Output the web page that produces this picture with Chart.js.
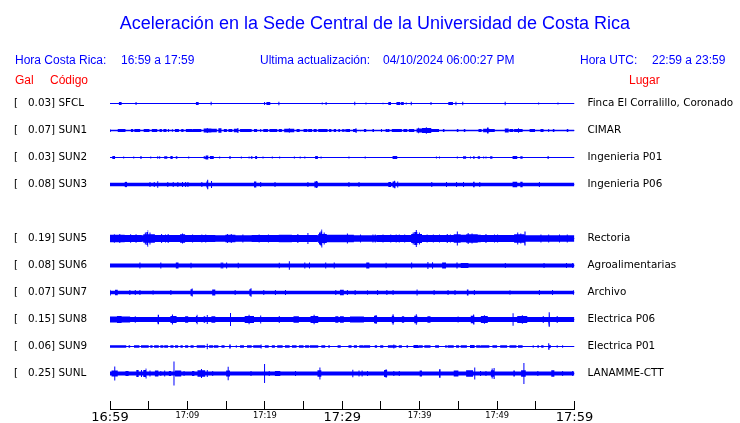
<!DOCTYPE html>
<html><head><meta charset="utf-8">
<script src="https://cdn.jsdelivr.net/npm/chart.js@4.4.1/dist/chart.umd.min.js"></script>
<style>
html,body{margin:0;padding:0;background:#fff;}
#wrap{position:relative;width:740px;height:423px;overflow:hidden;background:#fff;}
canvas{position:absolute;left:0;top:0;}
.t{position:absolute;white-space:pre;font-family:"Liberation Sans",Arial,sans-serif;line-height:1;}
.b{color:#0000ff;font-size:12px;}
.r{color:#ff0000;font-size:12px;}
</style></head><body>
<div id="wrap">
<canvas id="c" width="740" height="423"></canvas>
<div class="t" style="left:0;width:750px;text-align:center;top:14px;font-size:18px;color:#0000ff">Aceleración en la Sede Central de la Universidad de Costa Rica</div>
<div class="t b" style="left:15px;top:54px">Hora Costa Rica:</div>
<div class="t b" style="left:121px;top:54px">16:59 a 17:59</div>
<div class="t b" style="left:260px;top:54px">Ultima actualización:</div>
<div class="t b" style="left:383px;top:54px">04/10/2024 06:00:27 PM</div>
<div class="t b" style="left:580px;top:54px">Hora UTC:</div>
<div class="t b" style="left:652px;top:54px">22:59 a 23:59</div>
<div class="t r" style="left:15px;top:74px">Gal</div>
<div class="t r" style="left:50px;top:74px">Código</div>
<div class="t r" style="left:629px;top:74px">Lugar</div>
</div>
<script>
// ---------- data ----------
const TIME_TICKS = [0,5,10,15,20,25,30,35,40,45,50,55,60];          // minutes after 16:59
const TIME_LABELS = ['16:59','','17:09','','17:19','','17:29','','17:39','','17:49','','17:59'];
const CODES = ['SFCL','SUN1','SUN2','SUN3','SUN4','SUN5','SUN6','SUN7','SUN8','SUN9','SUNL'];
const PEAK_GAL = [0.03,0.07,0.03,0.08,null,0.19,0.08,0.07,0.15,0.06,0.25];
const PLACES = ['Finca El Corralillo, Coronado','CIMAR','Ingenieria P01','Ingenieria P06','',
  'Rectoria','Agroalimentarias','Archivo','Electrica P06','Electrica P01','LANAMME-CTT'];
// background noise half-amplitude per station (trace units)
const NOISE = [0,0.75,0,1.85,null,3.3,2.0,1.7,2.4,0,2.0];
// bursts: [minute, halfAmp] single spike, or [startMin, endMin, halfAmp]
const SFCL_EV = [[1.15,1.5,1.5],[3.3,1.6],[11.1,11.45,1.5],[13.0,1.8],[19.9,1.5],[20.2,20.7,1.5],[21.75,1.8],[27.35,1],[27.85,1.5],[31.55,1.8],[33.0,1],[35.2,0.8],[35.95,36.3,1.5],[37.0,37.5,1.5],[37.6,37.95,1.5],[38.2,1],[38.85,1.8],[41.4,1.5],[43.7,44.3,1.5],[44.62,1.8],[45.5,1.8],[50.98,1.8],[55.3,1],[57.8,1]];
const SUN1_EV = [[0,0.1,1.5],[1.0,2.0,1.5],[2.7,3.0,1.5],[3.15,3.9,1.5],[4.35,5.1,1.5],[5.4,6.1,1.5],[6.4,6.7,1.5],[6.9,7.3,1.5],[7.5,1.5],[8.0,8.1,1.5],[8.4,8.9,1.5],[9.2,9.5,1.5],[9.8,10.6,1.5],[10.7,11.8,1.5],[12.1,13.1,2],[12.5,2.5],[13.1,13.8,1.8],[14.0,14.4,2.2],[14.7,15.1,1.5],[15.3,15.8,1.5],[16.0,16.6,1.8],[16.45,2.5],[16.8,18.3,1.5],[18.6,19.0,1.5],[19.4,1.5],[19.8,20.4,1.5],[20.6,21.6,1.5],[21.8,22.2,1.5],[22.5,23.8,1.8],[23.1,2.2],[24.1,24.5,1.5],[25.0,25.5,1.5],[25.6,26.1,1.5],[26.3,26.7,1.5],[26.9,28.1,1.5],[28.3,28.6,1.5],[28.9,29.2,1.5],[29.5,29.7,1.5],[30.0,30.2,1.5],
  [30.3,1.5],[30.5,31.0,1.5],[31.4,31.9,1.5],[31.7,2.2],[32.3,32.4,1.5],[32.8,33.1,1.5],[33.9,34.1,1.5],[35.0,1.5],[35.6,35.8,1.5],[35.9,36.1,1.5],[36.4,37.7,1.5],[37.9,38.4,1.5],[38.6,39.3,1.5],[39.6,40.3,2],[39.8,2.8],[40.3,41.5,2.5],[40.8,3.2],[41.5,42.5,1.5],[43.0,43.2,1.5],[44.8,45.0,1.5],[45.7,45.9,1.5],[47.6,48.0,1.5],[48.2,49.0,1.8],[48.7,48.9,3],[49.0,49.7,1.5],[51.0,51.5,2],[51.6,52.1,1.5],[52.2,53.3,1.5],[52.7,2.2],[54.2,54.9,1.5],[55.6,56.0,1.5],[56.6,1.5],[57.2,57.4,1.5],[59.0,59.2,1.5]];
const SUN2_EV = [[0.3,0.65,1.5],[1.7,1],[3.0,1],[3.9,4.1,1.3],[5.2,1],[6.1,1.3],[6.35,1.3],[7.0,7.4,1.3],[7.8,8.1,1.5],[8.5,8.7,1.3],[10.1,1],[12.1,12.3,1.3],[12.4,12.7,2],[12.9,13.4,1.5],[14.1,1],[15.4,15.6,1.3],[16.9,1],[17.9,1],[18.2,18.4,1.3],[18.75,19.0,1.5],[19.7,1],[20.9,1],[21.85,1],[23.75,1],[24.5,1],[25.1,1],[26.5,26.85,1.5],[27.2,1],[30.8,1],[32.9,1],[36.5,37.1,1.5],[42.1,1],[42.5,1],[44.8,1],[45.6,46.0,1.3],[46.5,1],[46.9,47.1,1.3],[47.5,47.8,1.3],[48.2,1],[48.5,1],[49.1,49.4,1.3],[52.0,52.6,1.5],[53.0,53.3,1.3],[56.5,56.7,1.3]];
const SUN3_EV = [[1.9,2.2,2.5],[2.0,2.8],[5.1,2.5],[5.65,2.5],[6.1,3.3],[7.4,2.5],[8.1,2.5],[8.7,2.5],[9.3,2.5],[9.7,2.5],[10.0,2.5],[11.8,2.5],[12.45,12.7,3],[12.55,4.7],[13.05,3.5],[18.6,18.9,3],[19.4,2.5],[21.25,2.5],[25.5,2.5],[26.4,26.85,3],[26.6,3.5],[30.8,2.5],[32.1,2.5],[35.95,36.3,2.5],[36.5,36.9,3],[36.7,3.8],[37.1,3],[41.5,2.5],[43.4,2.5],[44.7,2.5],[45.6,2.5],[46.9,47.1,2.8],[47.7,2.5],[52.0,52.6,2.8],[53.0,53.3,2.8],[55.4,2.5]];
const SUN5_EV = [[0,1.9,3.8],[0.5,4.3],[1.2,4.5],[1.9,4.1,3.5],[2.6,4.2],[3.3,4.2],[4.3,5.8,4.3],[4.5,6],[4.7,4.9,6.5],[4.8,8.5],[5.1,6],[5.8,9.05,3.5],[6.6,4.5],[7.1,4],[7.45,4.5],[9.05,9.7,4.2],[9.3,5],[9.7,13.6,3.5],[10.6,4],[11.8,4],[12.3,4],[13.6,14.9,3.3],[14.9,16.2,3.7],[15.1,4.5],[15.6,4.5],[16.2,18.3,3.3],[17.1,4],[18.3,21.8,3.5],[19.2,4],[20.4,4],[21.8,23.5,3.7],[23.5,26.8,3.5],[24.2,4.5],[25.5,5.5],[26.9,28.0,4.5],[27.0,6],[27.2,27.4,7],[27.3,9],[27.6,6],[28.0,30.4,3.7],
  [30.4,31.5,3.7],[30.6,5],[31.5,34.5,3.3],[32.3,4],[33.9,4],[34.2,4],[34.5,38.9,3.5],[35.2,4],[36.2,4],[36.9,4],[37.3,4],[38.0,4],[38.9,40.3,4.5],[39.1,6],[39.3,39.7,6.5],[39.5,8.5],[39.9,6],[40.3,44.4,3.5],[40.9,4],[41.7,4],[42.5,4],[43.5,4.5],[43.9,4],[44.4,45.3,4.3],[44.8,7],[45.3,47.9,3.7],[46.0,47.5,4.3],[46.2,5.5],[46.7,5],[47.9,52.2,3.5],[48.5,4.5],[49.6,4],[50.0,4],[52.2,53.5,4.3],[52.6,6],[53.0,5],[53.55,7],[53.5,60,3.3],[55.6,4],[56.6,4],[58.0,4],[59.0,4]];
const SUN6_EV = [[3.8,3],[6.5,3],[8.5,8.85,3],[10.4,2.7],[14.3,3],[14.5,3],[15.0,3],[16.5,2.7],[21.8,2.7],[23.1,4.3],[25.1,3],[25.7,3],[27.8,3],[28.9,3],[33.1,33.5,3],[35.6,2.7],[38.9,3],[41.0,3.5],[41.6,3.2],[42.9,43.4,3],[44.75,44.9,3],[45.3,46.3,2.6],[51.0,2.5],[56.0,2.5],[58.9,2.5],[59.7,2.5]];
const SUN7_EV = [[0,0.1,3],[0.65,1.0,2.8],[2.5,2.5],[3.2,2.5],[3.8,2.5],[5.5,2.3],[7.8,2.5],[10.4,10.7,3.3],[10.55,4],[13.2,13.6,3],[16.1,2.5],[18.0,18.3,3.3],[18.15,4.2],[19.8,2.5],[21.3,2.5],[22.6,2.5],[29.1,2.5],[29.7,30.2,2.8],[30.6,2.5],[31.6,2.5],[33.2,2.3],[34.5,2.5],[35.7,2.5],[36.5,2.5],[39.6,3],[41.8,2.5],[43.6,2.5],[44.5,2.5],[46.1,46.3,3],[47.0,2.5],[51.6,2.3],[55.4,2.5],[57.1,2.5],[59.8,2.3]];
const SUN8_EV = [[0,2.6,3],[0.9,1.5,3.5],[3.2,3.2],[6.1,6.3,3.6],[6.2,4.7],[7.8,8.6,3.6],[8.0,5],[9.7,10.1,3.3],[11.1,11.3,3.6],[11.2,4.8],[12.1,12.3,3.3],[12.5,4.5],[13.1,13.6,3.3],[15.5,6.5],[17.4,18.6,3.5],[17.9,4.8],[19.4,4],[21.8,3.5],[23.7,24.4,3.3],[25.9,26.9,3.5],[26.3,4.8],[29.1,29.5,3.3],[29.7,30.2,3.3],[31.0,32.8,3.1],[34.1,34.5,3.8],[34.3,4.5],[36.4,36.7,3.8],[36.5,5.2],[37.7,38.0,3.3],[39.3,39.7,3.8],[39.5,5.3],[41.0,41.4,3.3],[44.9,3],[46.6,47.1,3.8],[46.9,5],[47.9,48.8,3.5],[48.3,4.3],[52.0,6.3],[52.6,53.9,3.4],[53.2,4.3],[55.9,3.5],[56.6,56.8,3.8],[56.7,7.2],[57.7,3.5]];
const SUN9_EV = [[0,2.1,1.2],[2.4,2.6,1.2],[3.1,3.8,1.2],[4.0,5.0,1.2],[5.2,5.5,1.2],[5.7,6.3,1.2],[6.5,6.9,1.2],[7.0,7.5,1.2],[7.8,8.2,1.2],[8.4,8.8,1.2],[9.1,9.4,1.2],[9.7,10.1,1.2],[10.4,10.8,1.2],[11.2,12.3,1.3],[12.5,2.7],[12.8,13.3,1.2],[13.4,14.0,1.2],[14.4,14.8,1.2],[15.4,15.6,2],[16.25,1.2],[16.8,17.3,1.2],[17.7,18.3,1.2],[18.5,19.6,1.3],[19.45,2],[20.0,20.5,1.2],[20.9,21.3,1.2],[21.6,22.3,1.2],[22.6,23.2,1.2],[23.5,24.1,1.2],[24.4,25.0,1.2],[25.2,25.7,1.2],[25.8,26.9,1.2],[27.3,27.8,1.3],[28.2,28.4,1.2],[29.4,29.8,1.2],
  [30.8,31.2,1.2],[31.5,31.9,1.2],[32.2,32.7,1.2],[32.8,33.6,1.2],[34.2,34.5,1.2],[34.9,35.3,1.2],[35.9,37.0,1.2],[36.6,2],[37.3,37.7,1.2],[38.3,38.5,1.2],[39.2,39.8,1.5],[39.9,40.4,1.2],[40.6,41.4,1.2],[42.0,42.5,1.2],[43.3,43.5,1.2],[43.6,44.4,1.2],[44.7,45.1,1.2],[45.3,46.1,1.2],[46.5,47.1,1.5],[47.3,47.8,1.2],[47.9,49.0,1.2],[49.4,50.0,1.2],[50.4,51.3,1.2],[51.6,52.5,1.2],[52.7,53.3,1.2],[54.6,1.2],[55.2,55.4,1.2],[55.7,56.0,1.2],[56.6,3.3],[56.8,1.5],[57.7,1.2],[58.4,1.2]];
const SUNL_EV = [[0.2,1.0,3],[0.55,7],[2.0,2.4,2.5],[3.4,3.7,3.5],[4.0,3.5],[4.3,4.7,3.5],[4.6,5],[5.1,3],[5.8,6.25,3],[6.5,2.5],[7.0,3],[7.6,7.9,2.5],[8.2,12],[8.4,9.2,3],[9.5,2.5],[10.6,10.9,2.5],[11.3,12.3,3.3],[11.75,4.5],[12.5,3.5],[13.2,2.5],[15.0,15.5,3],[15.2,6.7],[18.15,2.5],[19.9,9.5],[20.5,2.5],[21.3,22.0,2.5],[23.9,2.5],[26.8,27.3,3.3],[27.05,6],[31.3,3.7],[32.1,3],[32.5,3],[33.2,2.5],[35.4,35.8,3.5],[35.6,4.2],[36.6,2.5],[37.3,2.5],[40.0,40.3,3],[42.5,42.7,4.3],[44.4,45.0,3],[46.0,46.9,3.3],[47.05,6],[47.8,2.5],[48.5,2.5],[49.2,49.7,3.3],[49.3,5],[49.55,5.5],[52.1,52.3,3],[53.1,53.7,3.3],[53.4,10.5],[55.2,2.5],[57.0,57.4,3.3],[58.4,2.5],[59.7,2.5]];
const EVENTS = [SFCL_EV,SUN1_EV,SUN2_EV,SUN3_EV,null,SUN5_EV,SUN6_EV,SUN7_EV,SUN8_EV,SUN9_EV,SUNL_EV];

// ---------- layout / style constants ----------
const ROW = 27;          // trace units between station rows
const SPIKE_W = 0.13;    // duration (min) of a single-sample spike
const BLUE = '#0000ff';
const LABEL_FONT = {family: '"DejaVu Sans"', size: 10.4};
const LEFT_EDGE = 14, PLOT_LEFT = 110, PLOT_RIGHT = 574.5, PLOT_TOP = 90, PLOT_BOTTOM = 409.5, Y_TOP = -13.5;

function envelope(events, noise) {
  const segs = events.map(e => e.length === 2 ? [e[0], e[0] + SPIKE_W, e[1]] : e);
  const bp = new Set([0, 60]);
  segs.forEach(s => { bp.add(Math.max(0, s[0])); bp.add(Math.min(60, s[1])); });
  const xs = [...bp].sort((a, b) => a - b);
  const pts = [];
  for (let i = 0; i < xs.length - 1; i++) {
    const a = xs[i], b = xs[i + 1], mid = (a + b) / 2;
    let lvl = noise;
    segs.forEach(s => { if (s[0] <= mid && mid <= s[1]) lvl = Math.max(lvl, s[2]); });
    pts.push([a, lvl], [b, lvl]);
  }
  return pts;
}

const datasets = [];
const rowTicks = [];
CODES.forEach((code, i) => {
  if (!EVENTS[i]) return;
  const off = i * ROW;
  rowTicks.push(off);
  const env = envelope(EVENTS[i], NOISE[i]);
  const common = {backgroundColor: BLUE, borderColor: 'rgba(0,0,0,0)', borderWidth: 0, pointRadius: 0, fill: {value: off}, xAxisID: 'x', yAxisID: 'y'};
  datasets.push(Object.assign({label: code + '+', data: env.map(p => ({x: p[0], y: off - p[1]}))}, common));
  datasets.push(Object.assign({label: code + '-', data: env.map(p => ({x: p[0], y: off + p[1]}))}, common));
  datasets.push({label: code, data: [{x: 0, y: off}, {x: 60, y: off}], borderColor: BLUE, borderWidth: 1, pointRadius: 0, fill: false, xAxisID: 'x', yAxisID: 'y'});
});

const leftLabel = i => '[' + PEAK_GAL[i].toFixed(2).padStart(7, ' ') + '] ' + CODES[i];

const noPad = s => { s.paddingTop = 0; s.paddingBottom = 0; s.paddingLeft = 0; s.paddingRight = 0; };
const yCommon = {
  type: 'linear', reverse: true, min: Y_TOP, max: Y_TOP + (PLOT_BOTTOM - PLOT_TOP),
  display: true,
  grid: {display: false, drawTicks: false}, border: {display: false},
  afterBuildTicks: s => { s.ticks = rowTicks.map(v => ({value: v})); }
};

const tickMarks = {
  id: 'tickMarks',
  afterDraw(chart) {
    const xs = chart.scales.x, ctx = chart.ctx, bottom = chart.chartArea.bottom;
    ctx.save();
    ctx.strokeStyle = '#000'; ctx.lineWidth = 1;
    xs.ticks.forEach(t => {
      const px = Math.floor(xs.getPixelForValue(t.value)) + 0.5;
      ctx.beginPath(); ctx.moveTo(px, bottom); ctx.lineTo(px, bottom - 8.5); ctx.stroke();
    });
    ctx.restore();
  }
};

new Chart(document.getElementById('c'), {
  type: 'line',
  data: {datasets},
  options: {
    responsive: false, animation: false, devicePixelRatio: 1,
    layout: {padding: {top: PLOT_TOP, left: LEFT_EDGE, right: 0, bottom: 0}},
    plugins: {legend: {display: false}, tooltip: {enabled: false}, title: {display: false}},
    elements: {point: {radius: 0}, line: {tension: 0}},
    scales: {
      x: {
        type: 'linear', min: 0, max: 60, position: 'bottom',
        afterBuildTicks: s => { s.ticks = TIME_TICKS.map(v => ({value: v})); },
        afterFit: s => { s.height = 423 - PLOT_BOTTOM; noPad(s); },
        grid: {display: false, drawTicks: false},
        border: {display: true, color: '#000', width: 1},
        ticks: {
          autoSkip: false, maxRotation: 0, minRotation: 0, padding: 0, color: '#000',
          callback: (v, i) => TIME_LABELS[i] || '',
          font: ctx => {
            const v = ctx.tick ? ctx.tick.value : 0;
            return v % 30 === 0
              ? {family: '"DejaVu Sans"', size: 13, lineHeight: '17px'}
              : {family: '"DejaVu Sans"', size: 8.3, lineHeight: '13.6px'};
          }
        }
      },
      y: Object.assign({}, yCommon, {
        position: 'left',
        afterFit: s => { s.width = PLOT_LEFT - LEFT_EDGE; noPad(s); },
        ticks: {font: LABEL_FONT, color: '#000', crossAlign: 'far', padding: 0,
          callback: v => leftLabel(Math.round(v / ROW))}
      }),
      y2: Object.assign({}, yCommon, {
        position: 'right',
        afterFit: s => { s.width = 740 - PLOT_RIGHT; noPad(s); },
        ticks: {font: LABEL_FONT, color: '#000', crossAlign: 'near', padding: 13,
          callback: v => PLACES[Math.round(v / ROW)]}
      })
    }
  },
  plugins: [tickMarks]
});
</script>
</body></html>
